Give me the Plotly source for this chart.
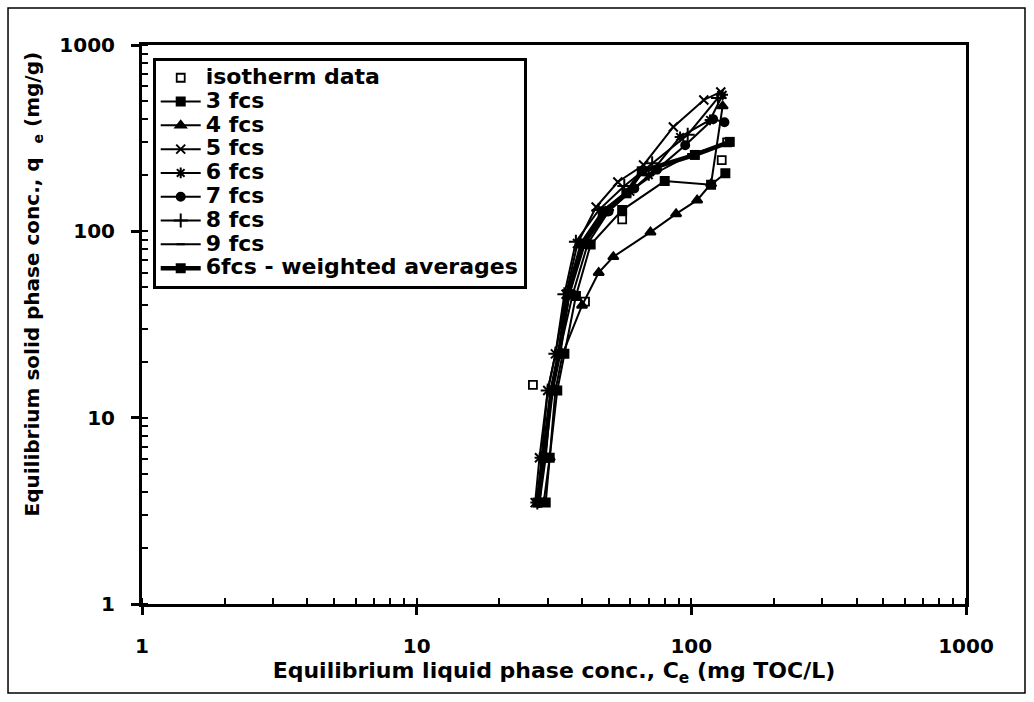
import plotly.graph_objects as go

# Isotherm measurements
iso_x = [26.5, 41, 56, 129, 135]
iso_y = [15, 42, 116, 241, 300]

# Model fits by number of fictive components (fcs)
fcs3_x = [29.5, 30.5, 32.5, 34.5, 38, 43, 56, 80, 118, 133]
fcs3_y = [3.5, 6.1, 14, 22, 45, 85, 130, 186, 178, 205]

fcs4_x = [29, 30.5, 32, 34, 40, 46, 52, 71, 88, 105, 118, 130]
fcs4_y = [3.5, 6.1, 14, 22, 40, 60, 73, 99, 124, 147, 180, 470]

fcs5_x = [27, 28, 30, 32, 35, 38.5, 45, 54, 67, 86, 111, 128]
fcs5_y = [3.5, 6.1, 14, 22, 46, 86, 135, 184, 227, 363, 507, 560]

fcs6_x = [28, 29, 31, 33, 36, 41, 50, 60, 70, 91, 117, 130]
fcs6_y = [3.5, 6.1, 14, 22, 46, 86, 130, 163, 200, 321, 396, 540]

fcs7_x = [28, 29.5, 31, 33, 37, 42, 50, 62, 75, 95, 120, 132]
fcs7_y = [3.5, 6.1, 14, 22, 46, 86, 128, 170, 215, 290, 400, 385]

fcs8_x = [27.5, 28.5, 30, 32, 34.5, 38, 46, 57, 72, 97, 125]
fcs8_y = [3.5, 6.1, 14, 22, 46, 88, 130, 175, 232, 330, 520]

fcs9_x = [28, 29, 31, 33, 36, 40, 49, 60, 74, 100, 130]
fcs9_y = [3.5, 6.1, 14, 22, 46, 86, 125, 165, 205, 260, 290]

wavg_x = [27.5, 29, 31, 33, 35.5, 40, 48, 58, 66, 103, 138]
wavg_y = [3.5, 6.1, 14, 22, 46, 86, 128, 160, 210, 257, 302]

tick_vals = [1, 10, 100, 1000]
tick_text = ["1", "10", "100", "1000"]

FONT = "DejaVu Sans"


def legend_label(text):
    return f"<span style='font-size:22px'><b>{text}</b></span>"


fig = go.Figure()

fig.add_trace(go.Scatter(
    x=iso_x, y=iso_y, mode="markers", name=legend_label("isotherm data"),
    marker=dict(symbol="square-open", size=8, color="black", line=dict(width=1.8, color="black")),
))

series = [
    ("3 fcs", fcs3_x, fcs3_y, "square", 8),
    ("4 fcs", fcs4_x, fcs4_y, "triangle-up", 9),
    ("5 fcs", fcs5_x, fcs5_y, "x-thin-open", 9),
    ("6 fcs", fcs6_x, fcs6_y, "asterisk-open", 9),
    ("7 fcs", fcs7_x, fcs7_y, "circle", 8),
    ("8 fcs", fcs8_x, fcs8_y, "cross-thin-open", 10),
    ("9 fcs", fcs9_x, fcs9_y, "line-ew-open", 6),
]
for name, xs, ys, sym, size in series:
    fig.add_trace(go.Scatter(
        x=xs, y=ys, mode="lines+markers", name=legend_label(name),
        line=dict(color="black", width=2),
        marker=dict(symbol=sym, size=size, color="black", line=dict(width=2, color="black")),
    ))

fig.add_trace(go.Scatter(
    x=wavg_x, y=wavg_y, mode="lines+markers", name=legend_label("6fcs - weighted averages"),
    line=dict(color="black", width=4.5),
    marker=dict(symbol="square", size=10, color="black"),
))

axis_common = dict(
    type="log",
    tickvals=tick_vals,
    ticktext=tick_text,
    ticks="outside",
    ticklen=8,
    tickwidth=2.5,
    tickcolor="black",
    showline=True,
    linewidth=3,
    linecolor="black",
    mirror=True,
    showgrid=False,
    zeroline=False,
    tickfont=dict(family=FONT, size=20, color="black", weight="bold"),
    minor=dict(ticks="inside", ticklen=6, tickwidth=2, tickcolor="black", dtick="D1", showgrid=False),
)

fig.update_xaxes(
    range=[0, 3],
    title=dict(text="<b>Equilibrium liquid phase conc., C<sub>e</sub> (mg TOC/L)</b>",
               font=dict(family=FONT, size=22, color="black"), standoff=3),
    ticklabelstandoff=14,
    **axis_common,
)
fig.update_yaxes(
    range=[0, 3],
    ticklabelstandoff=12,
    **axis_common,
)

# Vertical axis title placed as an annotation so it can sit above centre
fig.add_annotation(
    text="<b>Equilibrium solid phase conc., q  <sub>e</sub> (mg/g)</b>",
    xref="paper", yref="paper", x=-0.132, y=0.572,
    xanchor="center", yanchor="middle", textangle=-90, showarrow=False,
    font=dict(family=FONT, size=20, color="black"),
)

# Outer frame around the whole chart
fig.add_shape(type="rect", xref="paper", yref="paper",
              x0=-0.1626, x1=1.0716, y0=-0.159, y1=1.066,
              line=dict(color="black", width=1.5), fillcolor="rgba(0,0,0,0)", layer="below")

fig.update_layout(
    width=1034, height=702,
    margin=dict(l=142, r=68, t=45, b=98),
    paper_bgcolor="white",
    plot_bgcolor="white",
    showlegend=True,
    legend=dict(
        x=0.013, y=0.977, xanchor="left", yanchor="top",
        bgcolor="white", bordercolor="black", borderwidth=3,
        font=dict(family=FONT, size=16, color="black"),
        tracegroupgap=0, itemwidth=40,
    ),
)

fig.write_html("out.html")
